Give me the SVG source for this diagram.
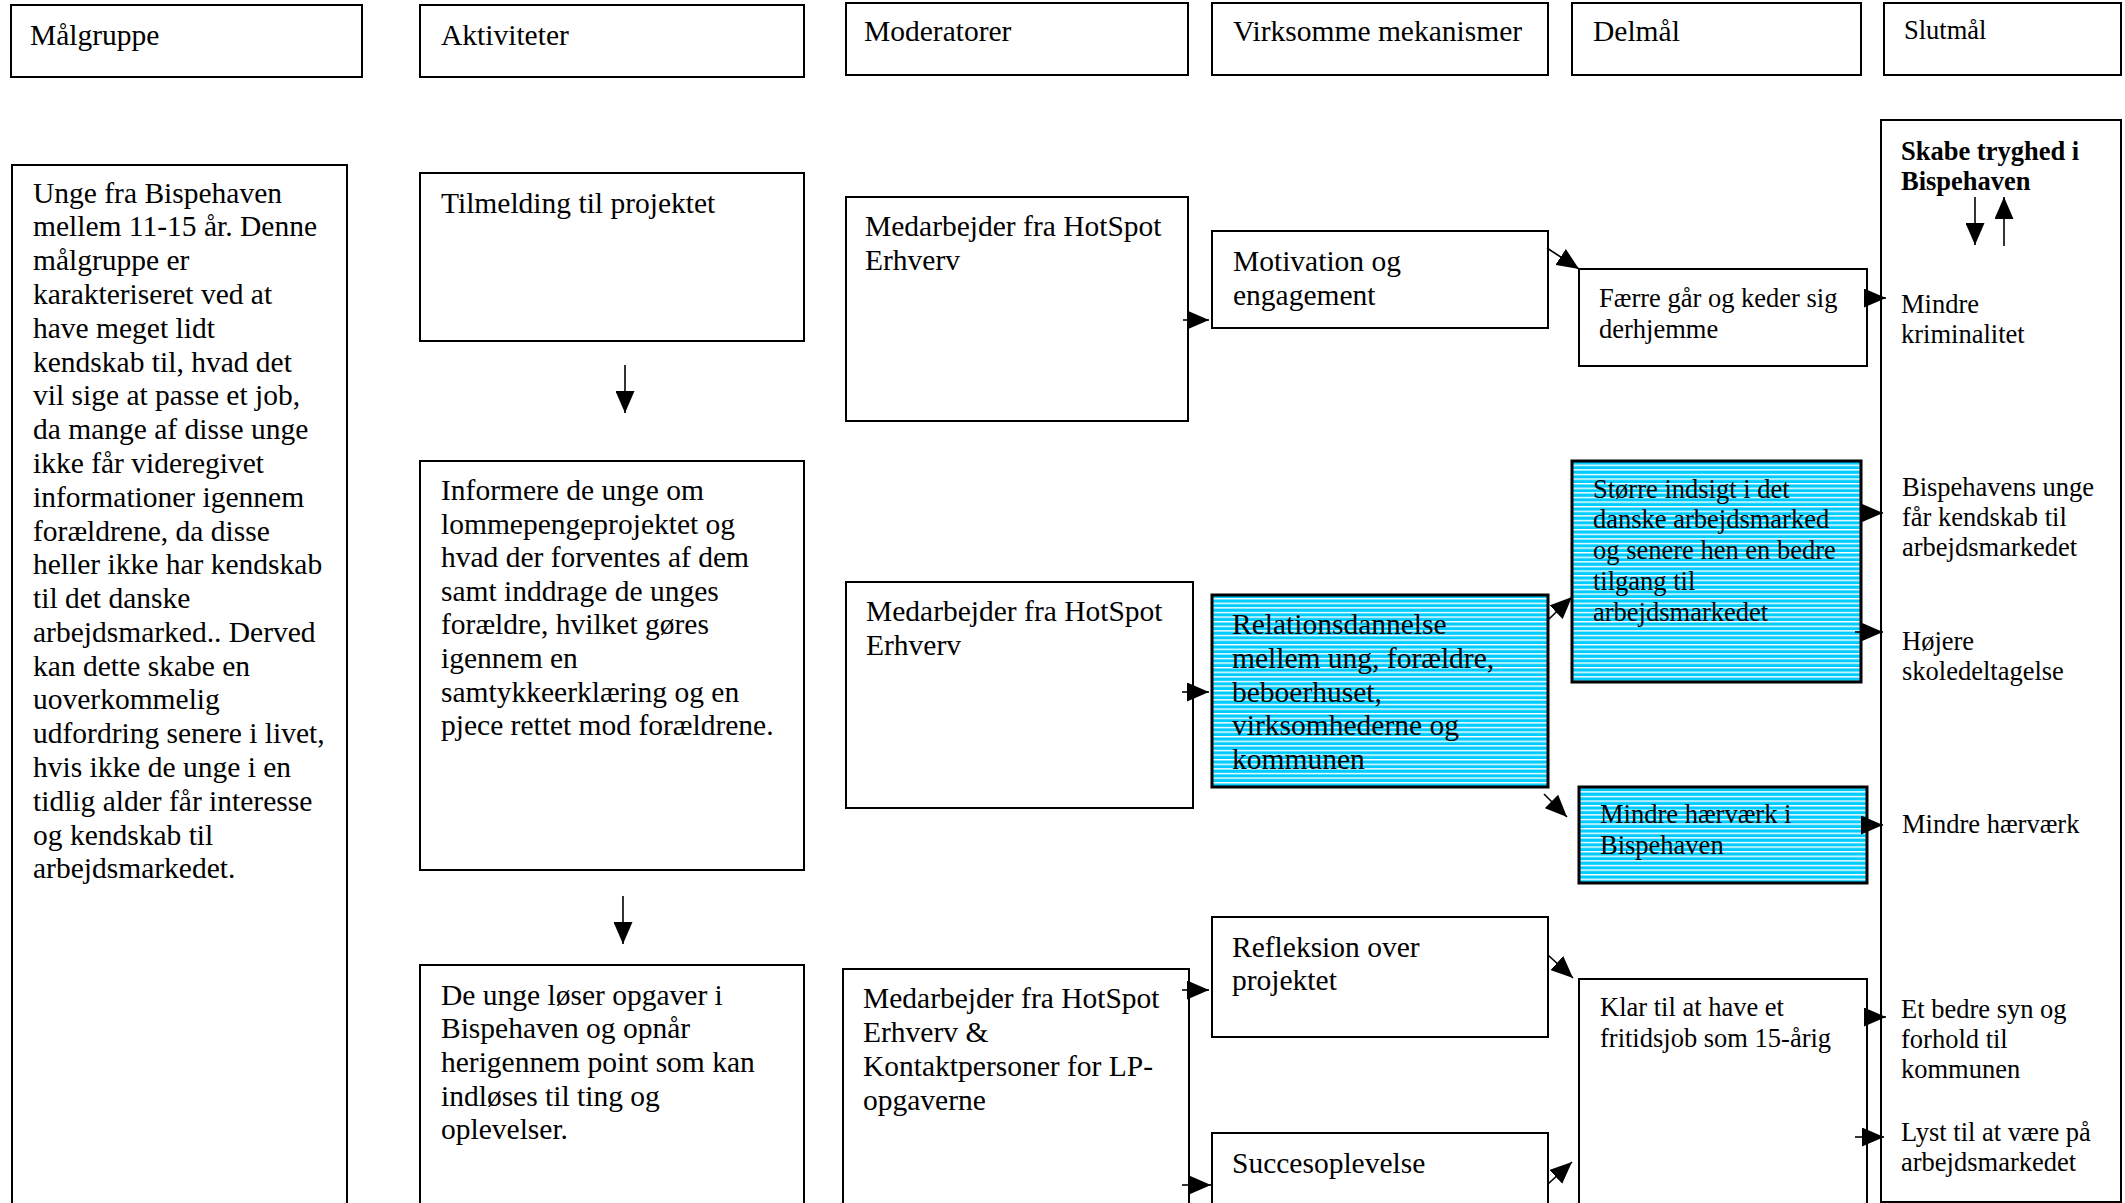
<svg xmlns="http://www.w3.org/2000/svg" width="2125" height="1203" viewBox="0 0 2125 1203">
<style>
.t{font-family:"Liberation Serif","Times New Roman",serif;font-size:29.5px;fill:#000}
.s{font-size:26.5px}
.b{font-weight:bold}
.box{fill:#fff;stroke:#000;stroke-width:2}
.hb{fill:url(#hatch);stroke:#000;stroke-width:3}
.c{stroke:#000;stroke-width:1.6;fill:none;marker-end:url(#ah)}
</style>
<defs>
<pattern id="hatch" width="10" height="4.6" patternUnits="userSpaceOnUse">
<rect width="10" height="4.6" fill="#00CCFF"/>
<rect width="10" height="1.4" fill="#fff"/>
</pattern>
<marker id="ah" markerUnits="userSpaceOnUse" markerWidth="22" markerHeight="19" viewBox="0 0 22 19" refX="22" refY="9.5" orient="auto">
<path d="M0,0 L22,9.5 L0,19 z" fill="#000"/>
</marker>
</defs>
<rect width="2125" height="1203" fill="#fff"/>

<g id="h-malgruppe"><rect class="box" x="11" y="5" width="351" height="72"/><text class="t" x="30" y="45">Målgruppe</text></g>
<g id="h-aktiviteter"><rect class="box" x="420" y="5" width="384" height="72"/><text class="t" x="441" y="45">Aktiviteter</text></g>
<g id="h-moderatorer"><rect class="box" x="846" y="3" width="342" height="72"/><text class="t" x="864" y="41">Moderatorer</text></g>
<g id="h-mekanismer"><rect class="box" x="1212" y="3" width="336" height="72"/><text class="t" x="1233" y="41">Virksomme mekanismer</text></g>
<g id="h-delmal"><rect class="box" x="1572" y="3" width="289" height="72"/><text class="t" x="1593" y="41">Delmål</text></g>
<g id="h-slutmal"><rect class="box" x="1884" y="3" width="237" height="72"/><text class="t s" x="1904" y="39">Slutmål</text></g>

<g id="malgruppe"><rect class="box" x="12" y="165" width="335" height="1050"/>
<text class="t" x="33" y="202.5"><tspan x="33">Unge fra Bispehaven</tspan><tspan x="33" dy="33.8">mellem 11-15 år. Denne</tspan><tspan x="33" dy="33.8">målgruppe er</tspan><tspan x="33" dy="33.8">karakteriseret ved at</tspan><tspan x="33" dy="33.8">have meget lidt</tspan><tspan x="33" dy="33.8">kendskab til, hvad det</tspan><tspan x="33" dy="33.8">vil sige at passe et job,</tspan><tspan x="33" dy="33.8">da mange af disse unge</tspan><tspan x="33" dy="33.8">ikke får videregivet</tspan><tspan x="33" dy="33.8">informationer igennem</tspan><tspan x="33" dy="33.8">forældrene, da disse</tspan><tspan x="33" dy="33.8">heller ikke har kendskab</tspan><tspan x="33" dy="33.8">til det danske</tspan><tspan x="33" dy="33.8">arbejdsmarked.. Derved</tspan><tspan x="33" dy="33.8">kan dette skabe en</tspan><tspan x="33" dy="33.8">uoverkommelig</tspan><tspan x="33" dy="33.8">udfordring senere i livet,</tspan><tspan x="33" dy="33.8">hvis ikke de unge i en</tspan><tspan x="33" dy="33.8">tidlig alder får interesse</tspan><tspan x="33" dy="33.8">og kendskab til</tspan><tspan x="33" dy="33.8">arbejdsmarkedet.</tspan></text></g>

<g id="tilmelding"><rect class="box" x="420" y="173" width="384" height="168"/><text class="t" x="441" y="213">Tilmelding til projektet</text></g>
<g id="informere"><rect class="box" x="420" y="461" width="384" height="409"/>
<text class="t" x="441" y="500"><tspan x="441">Informere de unge om</tspan><tspan x="441" dy="33.6">lommepengeprojektet og</tspan><tspan x="441" dy="33.6">hvad der forventes af dem</tspan><tspan x="441" dy="33.6">samt inddrage de unges</tspan><tspan x="441" dy="33.6">forældre, hvilket gøres</tspan><tspan x="441" dy="33.6">igennem en</tspan><tspan x="441" dy="33.6">samtykkeerklæring og en</tspan><tspan x="441" dy="33.6">pjece rettet mod forældrene.</tspan></text></g>
<g id="opgaver"><rect class="box" x="420" y="965" width="384" height="250"/>
<text class="t" x="441" y="1004.5"><tspan x="441">De unge løser opgaver i</tspan><tspan x="441" dy="33.7">Bispehaven og opnår</tspan><tspan x="441" dy="33.7">herigennem point som kan</tspan><tspan x="441" dy="33.7">indløses til ting og</tspan><tspan x="441" dy="33.7">oplevelser.</tspan></text></g>

<g id="mod1"><rect class="box" x="846" y="197" width="342" height="224"/>
<text class="t" x="865" y="236"><tspan x="865">Medarbejder fra HotSpot</tspan><tspan x="865" dy="34">Erhverv</tspan></text></g>
<g id="mod2"><rect class="box" x="846" y="582" width="347" height="226"/>
<text class="t" x="866" y="620.5"><tspan x="866">Medarbejder fra HotSpot</tspan><tspan x="866" dy="34">Erhverv</tspan></text></g>
<g id="mod3"><rect class="box" x="843" y="969" width="346" height="250"/>
<text class="t" x="863" y="1007.5"><tspan x="863">Medarbejder fra HotSpot</tspan><tspan x="863" dy="34">Erhverv &amp;</tspan><tspan x="863" dy="34">Kontaktpersoner for LP-</tspan><tspan x="863" dy="34">opgaverne</tspan></text></g>

<g id="motivation"><rect class="box" x="1212" y="231" width="336" height="97"/>
<text class="t" x="1233" y="271"><tspan x="1233">Motivation og</tspan><tspan x="1233" dy="34">engagement</tspan></text></g>
<g id="relation"><rect class="hb" x="1212" y="595" width="336" height="192"/>
<text class="t" x="1232" y="634"><tspan x="1232">Relationsdannelse</tspan><tspan x="1232" dy="33.8">mellem ung, forældre,</tspan><tspan x="1232" dy="33.8">beboerhuset,</tspan><tspan x="1232" dy="33.8">virksomhederne og</tspan><tspan x="1232" dy="33.8">kommunen</tspan></text></g>
<g id="refleksion"><rect class="box" x="1212" y="917" width="336" height="120"/>
<text class="t" x="1232" y="956.5"><tspan x="1232">Refleksion over</tspan><tspan x="1232" dy="33.5">projektet</tspan></text></g>
<g id="succes"><rect class="box" x="1212" y="1133" width="336" height="90"/>
<text class="t" x="1232" y="1172.5">Succesoplevelse</text></g>

<g id="faerre"><rect class="box" x="1579" y="269" width="288" height="97"/>
<text class="t s" x="1599" y="306.5"><tspan x="1599">Færre går og keder sig</tspan><tspan x="1599" dy="31">derhjemme</tspan></text></g>
<g id="indsigt"><rect class="hb" x="1572" y="461" width="289" height="221"/>
<text class="t s" x="1593" y="497.5"><tspan x="1593">Større indsigt i det</tspan><tspan x="1593" dy="30.8">danske arbejdsmarked</tspan><tspan x="1593" dy="30.8">og senere hen en bedre</tspan><tspan x="1593" dy="30.8">tilgang til</tspan><tspan x="1593" dy="30.8">arbejdsmarkedet</tspan></text></g>
<g id="haervaerk-i"><rect class="hb" x="1579" y="787" width="288" height="96"/>
<text class="t s" x="1600" y="822.5"><tspan x="1600">Mindre hærværk i</tspan><tspan x="1600" dy="31.5">Bispehaven</tspan></text></g>
<g id="klar"><rect class="box" x="1579" y="979" width="288" height="240"/>
<text class="t s" x="1600" y="1015.5"><tspan x="1600">Klar til at have et</tspan><tspan x="1600" dy="31">fritidsjob som 15-årig</tspan></text></g>

<g id="slutmal"><rect class="box" x="1881" y="120" width="240" height="1082"/>
<text class="t s b" x="1901" y="160"><tspan x="1901">Skabe tryghed i</tspan><tspan x="1901" dy="30">Bispehaven</tspan></text>
<text class="t s" x="1901" y="313"><tspan x="1901">Mindre</tspan><tspan x="1901" dy="30">kriminalitet</tspan></text>
<text class="t s" x="1902" y="495.5"><tspan x="1902">Bispehavens unge</tspan><tspan x="1902" dy="30">får kendskab til</tspan><tspan x="1902" dy="30">arbejdsmarkedet</tspan></text>
<text class="t s" x="1902" y="649.5"><tspan x="1902">Højere</tspan><tspan x="1902" dy="30">skoledeltagelse</tspan></text>
<text class="t s" x="1902" y="832.5">Mindre hærværk</text>
<text class="t s" x="1901" y="1017.5"><tspan x="1901">Et bedre syn og</tspan><tspan x="1901" dy="30">forhold til</tspan><tspan x="1901" dy="30">kommunen</tspan></text>
<text class="t s" x="1901" y="1140.5"><tspan x="1901">Lyst til at være på</tspan><tspan x="1901" dy="30">arbejdsmarkedet</tspan></text>
</g>

<g id="connectors">
<line class="c" x1="625" y1="365" x2="625" y2="413"/>
<line class="c" x1="623" y1="896" x2="623" y2="944"/>
<line class="c" x1="1975" y1="197" x2="1975" y2="245"/>
<line class="c" x1="2004" y1="246" x2="2004" y2="197"/>
<line class="c" x1="1183" y1="320" x2="1209" y2="320"/>
<line class="c" x1="1547" y1="248" x2="1579" y2="269"/>
<line class="c" x1="1865" y1="298" x2="1886" y2="298"/>
<line class="c" x1="1182" y1="692" x2="1209" y2="692"/>
<line class="c" x1="1549" y1="619" x2="1572" y2="597"/>
<line class="c" x1="1544" y1="794" x2="1567" y2="817"/>
<line class="c" x1="1861" y1="513" x2="1883" y2="513"/>
<line class="c" x1="1855" y1="632" x2="1883" y2="632"/>
<line class="c" x1="1865" y1="825" x2="1883" y2="825"/>
<line class="c" x1="1182" y1="990" x2="1209" y2="990"/>
<line class="c" x1="1182" y1="1185" x2="1211" y2="1185"/>
<line class="c" x1="1548" y1="955" x2="1573" y2="978"/>
<line class="c" x1="1548" y1="1184" x2="1572" y2="1162"/>
<line class="c" x1="1865" y1="1017" x2="1886" y2="1017"/>
<line class="c" x1="1855" y1="1137" x2="1884" y2="1137"/>
</g>
</svg>
